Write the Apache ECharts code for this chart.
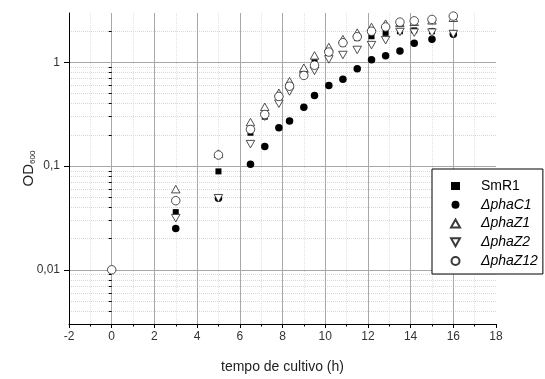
<!DOCTYPE html>
<html><head><meta charset="utf-8">
<script src="https://cdn.jsdelivr.net/npm/echarts@6/dist/echarts.min.js"></script>
<style>html,body{margin:0;padding:0;background:#fff}#c{width:545px;height:379px}</style>
</head><body><div id="c"></div>
<script>
// ---- data ----
const times  = [0, 3, 5, 6.5, 7.17, 7.83, 8.33, 9, 9.5, 10.17, 10.83, 11.5, 12.17, 12.83, 13.5, 14.17, 15, 16];
const smR1   = [0.01, 0.036, 0.089, 0.21, 0.30, 0.45, 0.58, 0.82, 1.01, 1.22, 1.52, 1.72, 1.79, 1.93, 2.0, 2.04, 2.0, 1.92];
const phaC1  = [0.01, 0.025, 0.049, 0.104, 0.155, 0.235, 0.272, 0.37, 0.48, 0.60, 0.69, 0.87, 1.06, 1.16, 1.29, 1.53, 1.67, 1.87];
const phaZ1  = [null, 0.060, 0.132, 0.266, 0.373, 0.51, 0.66, 0.89, 1.17, 1.41, 1.68, 1.94, 2.2, 2.37, 2.42, 2.47, 2.55, 2.7];
const phaZ2  = [null, 0.0315, 0.049, 0.163, 0.30, 0.40, 0.525, 0.74, 0.83, 1.07, 1.18, 1.32, 1.47, 1.64, 1.97, 1.94, 1.94, 1.88];
const phaZ12 = [0.01, 0.0464, 0.128, 0.226, 0.315, 0.47, 0.59, 0.75, 0.94, 1.26, 1.55, 1.77, 2.0, 2.2, 2.45, 2.52, 2.6, 2.8];
const seriesNames = ['SmR1', '\u0394phaC1', '\u0394phaZ1', '\u0394phaZ2', '\u0394phaZ12'];
const yMajorTicks = [0.01, 0.1, 1];
const yMinorTicks = [0.004,0.005,0.006,0.007,0.008,0.009,0.02,0.03,0.04,0.05,0.06,0.07,0.08,0.09,0.2,0.3,0.4,0.5,0.6,0.7,0.8,0.9,2];

const FONT = 'Liberation Sans, Arial, sans-serif';
function pairs(vals){ const out=[]; vals.forEach((v,i)=>{ if(v!=null) out.push([times[i], v]); }); return out; }

const downTri = 'path://M0,0L10,0L5,9Z';
const openStyle = {color:'#fff', borderColor:'#3a3a3a', borderWidth:0.9, opacity:1};
const seriesDefs = [
  {vals: smR1,   symbol:'rect',     size:6,   style:{color:'#000', opacity:1}},
  {vals: phaC1,  symbol:'circle',   size:7.5, style:{color:'#000', opacity:1}},
  {vals: phaZ1,  symbol:'triangle', size:[8.5,7.5], style:openStyle},
  {vals: phaZ2,  symbol:downTri,    size:[8.5,7.5], style:openStyle},
  {vals: phaZ12, symbol:'circle',   size:8.5, style:openStyle}
];

const chart = echarts.init(document.getElementById('c'), null, {renderer:'canvas'});
chart.setOption({
  animation:false,
  backgroundColor:'#fff',
  textStyle:{fontFamily:FONT},
  grid:{left:69, right:49, top:13, bottom:51, containLabel:false},
  xAxis:{
    type:'value', min:-2, max:18, interval:2,
    axisLine:{onZero:false, lineStyle:{color:'#000', width:1}},
    axisTick:{inside:false, length:4, lineStyle:{color:'#000'}},
    minorTick:{show:true, splitNumber:2, length:2.5, lineStyle:{color:'#000'}},
    axisLabel:{margin:7, fontSize:12, color:'#333', fontFamily:FONT},
    splitLine:{show:true, showMinLine:false, showMaxLine:false, lineStyle:{color:'#a8a8a8', width:1}},
    minorSplitLine:{show:true, lineStyle:{color:'#e2e2e2', type:'dotted', width:1}},
    name:'tempo de cultivo (h)', nameLocation:'middle', nameGap:36, nameMoveOverlap:false,
    nameTextStyle:{fontSize:14, color:'#222', fontFamily:FONT}
  },
  yAxis:[{
    type:'log', logBase:10, min:0.003, max:3,
    axisLine:{show:true, onZero:false, lineStyle:{color:'#000', width:1}},
    axisTick:{show:true, inside:false, length:5, customValues:yMajorTicks, lineStyle:{color:'#000'}},
    axisLabel:{show:true, customValues:yMajorTicks, margin:9, fontSize:12, color:'#333', fontFamily:FONT,
      formatter:function(v){ return String(v).replace('.', ','); }},
    splitLine:{show:true, lineStyle:{color:'#a8a8a8', width:1}},
    name:'{a|OD}{b|600}', nameLocation:'middle', nameGap:32, nameRotate:90, nameMoveOverlap:false,
    nameTextStyle:{color:'#222', fontFamily:FONT, rich:{
      a:{fontSize:15, color:'#222', fontFamily:FONT},
      b:{fontSize:8, color:'#222', fontFamily:FONT, padding:[8,0,0,0]}
    }}
  },{
    type:'log', logBase:10, min:0.003, max:3, position:'left', gridIndex:0,
    axisLine:{show:false},
    axisTick:{show:true, inside:false, length:3, customValues:yMinorTicks, lineStyle:{color:'#000'}},
    axisLabel:{show:false},
    splitLine:{show:true, lineStyle:{color:'#d8d8d8', type:'dotted', width:1}}
  }],
  legend:{
    orient:'vertical', left:432, top:169,
    backgroundColor:'#fff', borderColor:'#000', borderWidth:1, borderRadius:0,
    padding:[10,5,6,18], itemWidth:9, itemHeight:8, itemGap:4.75,
    textStyle:{fontSize:14, color:'#000', fontFamily:FONT, padding:[0,0,0,16]},
    data: seriesNames.map((n,i)=> i===0 ? {name:n} : {name:n, textStyle:{fontStyle:'italic'}})
  },
  series: seriesDefs.map((d,i)=>({
    name: seriesNames[i], type:'scatter', xAxisIndex:0, yAxisIndex:0,
    symbol:d.symbol, symbolSize:d.size, itemStyle:d.style,
    emphasis:{disabled:true}, z:2+i,
    data: pairs(d.vals)
  }))
});
</script></body></html>
